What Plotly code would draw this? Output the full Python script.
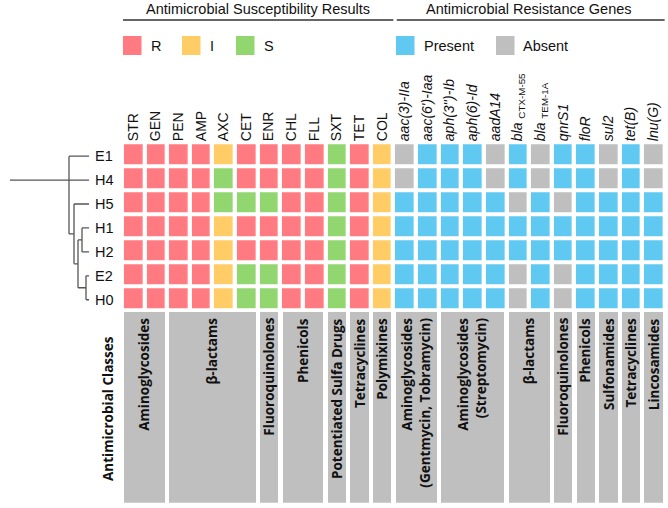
import plotly.graph_objects as go

# ---------------- data ----------------
samples = ["E1", "H4", "H5", "H1", "H2", "E2", "H0"]

ast_drugs = ["STR", "GEN", "PEN", "AMP", "AXC", "CET", "ENR", "CHL", "FLL", "SXT", "TET", "COL"]
gene_labels = ["<i>aac(3)-IIa</i>", "<i>aac(6')-Iaa</i>", "<i>aph(3'')-Ib</i>", "<i>aph(6)-Id</i>",
               "<i>aadA14</i>", "<i>bla</i> <sub>CTX-M-55</sub>", "<i>bla</i> <sub>TEM-1A</sub>",
               "<i>qnrS1</i>", "<i>floR</i>", "<i>sul2</i>", "<i>tet(B)</i>", "<i>lnu(G)</i>"]

# susceptibility results per sample (R / I / S)
ast_results = [
    ["R", "R", "R", "R", "I", "R", "R", "R", "R", "S", "R", "I"],  # E1
    ["R", "R", "R", "R", "S", "R", "R", "R", "R", "S", "R", "I"],  # H4
    ["R", "R", "R", "R", "S", "S", "S", "R", "R", "S", "R", "I"],  # H5
    ["R", "R", "R", "R", "I", "R", "R", "R", "R", "S", "R", "I"],  # H1
    ["R", "R", "R", "R", "I", "R", "R", "R", "R", "S", "R", "I"],  # H2
    ["R", "R", "R", "R", "I", "S", "S", "R", "R", "S", "R", "I"],  # E2
    ["R", "R", "R", "R", "I", "S", "S", "R", "R", "S", "R", "I"],  # H0
]
# resistance gene presence (1 present / 0 absent)
gene_presence = [
    [0, 1, 1, 1, 0, 1, 0, 1, 1, 0, 1, 0],  # E1
    [0, 1, 1, 1, 0, 1, 0, 1, 1, 0, 1, 0],  # H4
    [1, 1, 1, 1, 1, 0, 1, 0, 1, 1, 1, 1],  # H5
    [1, 1, 1, 1, 1, 1, 1, 1, 1, 1, 1, 1],  # H1
    [1, 1, 1, 1, 1, 1, 1, 1, 1, 1, 1, 1],  # H2
    [1, 1, 1, 1, 1, 0, 1, 0, 1, 1, 1, 1],  # E2
    [1, 1, 1, 1, 1, 0, 1, 0, 1, 1, 1, 1],  # H0
]

ast_class_names = ["Aminoglycosides", "β-lactams", "Fluoroquinolones", "Phenicols",
                   "Potentiated Sulfa Drugs", "Tetracyclines", "Polymixines"]
ast_class_sizes = [2, 4, 1, 2, 1, 1, 1]
gene_class_names = ["Aminoglycosides<br>(Gentmycin, Tobramycin)", "Aminoglycosides<br>(Streptomycin)",
                    "β-lactams", "Fluoroquinolones", "Phenicols", "Sulfonamides", "Tetracyclines",
                    "Lincosamides"]
gene_class_sizes = [2, 3, 2, 1, 1, 1, 1, 1]

# dendrogram: node -> (children, height)
tree_nodes = {
    "E": (["E2", "H0"], 3),
    "D": (["H1", "H2"], 7),
    "C": (["D", "E"], 11),
    "B": (["H5", "C"], 15),
    "A": (["E1", "H4", "B"], 20),
}
tree_root = "A"
root_height = 79

# ---------------- styling ----------------
W, H = 668, 508
FONT = "Liberation Sans, Arial, sans-serif"
BOLD = "Open Sans, Noto Sans, sans-serif"
COL_R, COL_I, COL_S = "#FF7B81", "#FFCC66", "#92D66F"
COL_P, COL_A = "#5FC9F1", "#BFBFBF"

def px(x):
    return x / W

def py(y):
    return 1 - y / H

X0, X1 = 121.9, 664.8
Y0, Y1 = 142.2, 309.7
pitch = (X1 - X0) / 24.0
gapx = 4.3

# ---------------- matrix ----------------
code = {"R": 0, "I": 1, "S": 2}
z = []
for r in range(len(samples)):
    row = [code[v] for v in ast_results[r]] + [3 if g else 4 for g in gene_presence[r]]
    z.append(row)
ncol = len(ast_drugs) + len(gene_labels)

colors = [COL_R, COL_I, COL_S, COL_P, COL_A]
cs = []
for i, c in enumerate(colors):
    cs.append([i / 5, c])
    cs.append([(i + 1) / 5, c])

fig = go.Figure()
fig.add_trace(go.Heatmap(
    z=z, x=list(range(ncol)), y=list(range(len(samples))),
    colorscale=cs, zmin=-0.5, zmax=4.5, showscale=False,
    xgap=gapx, ygap=4, hoverinfo="skip", xaxis="x", yaxis="y"))

# ---------------- class boxes ----------------
names = ast_class_names + gene_class_names
sizes = ast_class_sizes + gene_class_sizes
centers = []
start = 0
for s in sizes:
    centers.append(start + (s - 1) / 2)
    start += s
fig.add_trace(go.Bar(
    x=centers, y=[1] * len(sizes), base=0, width=[s - gapx / pitch for s in sizes],
    marker=dict(color=COL_A, line=dict(width=0)), hoverinfo="skip",
    xaxis="x", yaxis="y2"))

annotations = []
for c, n in zip(centers, names):
    annotations.append(dict(
        x=c, y=1, xref="x", yref="y2", text=n, showarrow=False, textangle=-90,
        xanchor="center", yanchor="top", yshift=-4, align="right",
        font=dict(family=BOLD, size=13.5, color="#111111", weight="bold")))
annotations.append(dict(
    x=px(108), y=py(409), xref="paper", yref="paper", text="Antimicrobial Classes",
    showarrow=False, textangle=-90, xanchor="center", yanchor="middle",
    font=dict(family=BOLD, size=13.5, color="#111111", weight="bold")))

# ---------------- dendrogram ----------------
LEAF_X = 89
ypos = {s: i for i, s in enumerate(samples)}
height = {s: 0 for s in samples}

def node_y(n):
    if n in ypos:
        return ypos[n]
    ch, h = tree_nodes[n]
    ys = sorted(node_y(c) for c in ch)
    m = len(ys)
    y = ys[m // 2] if m % 2 else (ys[m // 2 - 1] + ys[m // 2]) / 2
    ypos[n] = y
    height[n] = h
    return y

node_y(tree_root)
lx, ly = [], []
for n, (ch, h) in tree_nodes.items():
    cys = [ypos[c] for c in ch]
    lx += [LEAF_X - h, LEAF_X - h, None]
    ly += [min(cys), max(cys), None]
    for c in ch:
        lx += [LEAF_X - h, LEAF_X - height[c], None]
        ly += [ypos[c], ypos[c], None]
lx += [LEAF_X - root_height, LEAF_X - height[tree_root], None]
ly += [ypos[tree_root], ypos[tree_root], None]
fig.add_trace(go.Scatter(x=lx, y=ly, mode="lines", line=dict(color="#555555", width=1.3),
                         hoverinfo="skip", xaxis="x3", yaxis="y3"))

for i, s in enumerate(samples):
    annotations.append(dict(x=LEAF_X + 4, y=i, xref="x3", yref="y3", text=s, showarrow=False,
                            xanchor="left", yanchor="middle",
                            font=dict(family=FONT, size=14.5, color="#111111")))

# ---------------- headers ----------------
n_ast = len(ast_drugs)
annotations.append(dict(x=(n_ast - 1) / 2, y=py(9), xref="x", yref="paper",
                        text="Antimicrobial Susceptibility Results", showarrow=False,
                        xanchor="center", yanchor="middle",
                        font=dict(family=FONT, size=14.5, color="#111111")))
annotations.append(dict(x=n_ast + (len(gene_labels) - 1) / 2, y=py(9), xref="x", yref="paper",
                        text="Antimicrobial Resistance Genes", showarrow=False,
                        xanchor="center", yanchor="middle",
                        font=dict(family=FONT, size=14.5, color="#111111")))
shapes = [
    dict(type="line", xref="x", yref="paper", x0=-0.45, x1=n_ast - 0.5, y0=py(20), y1=py(20),
         line=dict(color="#333333", width=1.5)),
    dict(type="line", xref="x", yref="paper", x0=n_ast - 0.35, x1=ncol - 0.5, y0=py(20), y1=py(20),
         line=dict(color="#333333", width=1.5)),
]

# ---------------- legend ----------------
legend_items = [("R", COL_R, 123, 150), ("I", COL_I, 182, 209), ("S", COL_S, 236, 263),
                ("Present", COL_P, 396, 423), ("Absent", COL_A, 496, 522)]
for lab, col, sx, tx in legend_items:
    shapes.append(dict(type="rect", xref="paper", yref="paper", x0=px(sx), x1=px(sx + 18.5),
                       y0=py(55), y1=py(36), fillcolor=col, line=dict(width=0)))
    annotations.append(dict(x=px(tx - 1), y=py(46), xref="paper", yref="paper", text=lab,
                            showarrow=False, xanchor="left", yanchor="middle",
                            font=dict(family=FONT, size=14.5, color="#111111")))

# ---------------- layout ----------------
fig.update_layout(
    width=W, height=H, margin=dict(l=0, r=0, t=0, b=0),
    paper_bgcolor="white", plot_bgcolor="white", showlegend=False,
    bargap=0,
    xaxis=dict(domain=[px(X0), px(X1)], range=[-0.5, ncol - 0.5], anchor="y", side="top",
               tickvals=list(range(ncol)), ticktext=ast_drugs + gene_labels, tickangle=-90,
               ticks="", showgrid=False, zeroline=False, showline=False,
               tickfont=dict(family=FONT, size=14, color="#111111")),
    yaxis=dict(domain=[py(Y1), py(Y0)], range=[len(samples) - 0.5, -0.5], anchor="x",
               showticklabels=False, showgrid=False, zeroline=False, ticks=""),
    yaxis2=dict(domain=[py(502.7), py(311.7)], range=[0, 1], anchor="x",
                visible=False),
    xaxis3=dict(domain=[0, px(X0)], range=[0, X0], anchor="y3", visible=False),
    yaxis3=dict(domain=[py(Y1 + 2), py(Y0 + 2)], range=[len(samples) - 0.5, -0.5], anchor="x3",
                visible=False),
    shapes=shapes, annotations=annotations,
)

fig.write_html("out.html")
